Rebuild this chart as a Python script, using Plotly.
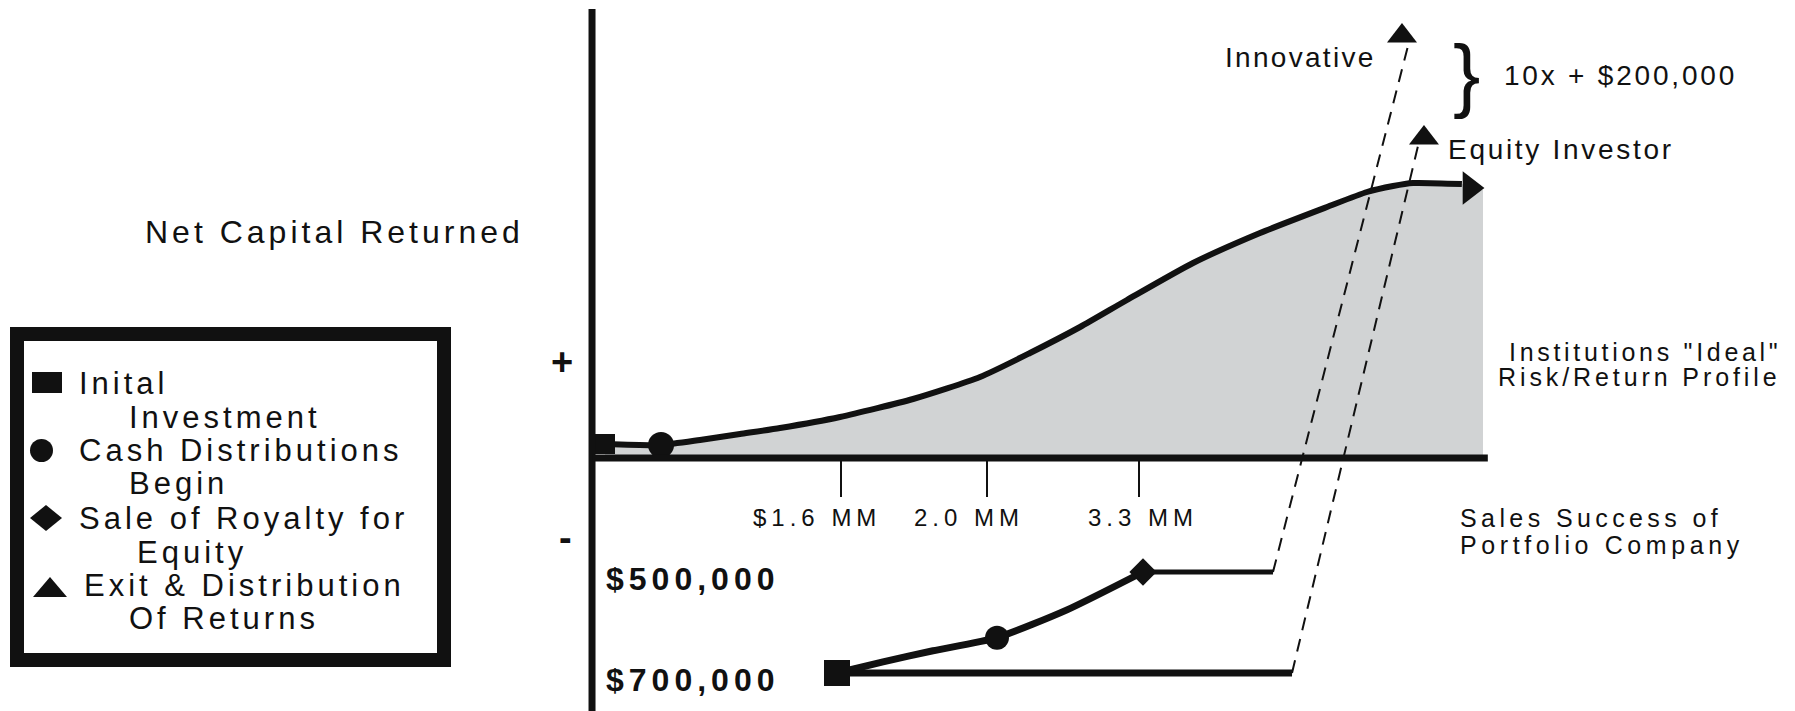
import plotly.graph_objects as go

W, H = 1795, 711
FONT = "Liberation Sans, Arial, Helvetica, sans-serif"
INK = "#111111"
SHADE = "#d1d3d4"

# ---- axis frame -------------------------------------------------------------
# x: progress along the sales axis (0 = origin, 100 = end of the axis)
# y: net capital returned (schematic units, positive side)
# y2: capital outstanding in dollars (negative side)
X_RANGE = [-66.22, 134.56]
Y_RANGE = [-63.25, 114.5]
Y2_RANGE = [-775247, 632673]
AXIS_END = 100.2

# ---- net capital returned curve (upper) -------------------------------------
curve_x = [1.45, 7.72, 12.08, 16.55, 21.03, 27.74, 35.91, 43.40, 48.99, 54.59,
           59.84, 67.23, 74.72, 82.21, 86.69, 89.60, 91.83, 97.3]
curve_y = [3.5, 3.25, 4.5, 6.0, 7.5, 10.25, 14.75, 20.25, 26.25, 32.75,
           39.5, 48.75, 56.25, 62.75, 66.5, 68.0, 68.75, 68.5]
shade_end_x, shade_end_y = 99.66, 67.0
arrow_x, arrow_y = [98.2], [67.5]

# ---- capital outstanding (lower), dollars -----------------------------------
low_x = [27.4, 32.55, 38.14, 45.3, 53.13, 61.63]
low_y = [-700000, -678000, -656000, -630000, -575000, -500000]
royalty_level_x = [61.63, 76.17]
investment_level_x = [27.4, 78.3]
levels = [-500000, -700000]
level_labels = ["$500,000", "$700,000"]

# ---- events ------------------------------------------------------------------
invest_up = ([1.45], [3.5])
invest_low = ([27.4], [-700000])
cash_up = ([7.72], [3.25])
cash_low = ([45.3], [-630000])
royalty_low = ([61.63], [-500000])
exit_x = [90.6, 93.06]
exit_y = [105.5, 80.0]
exit_labels = ["Innovative", "Equity Investor"]

# ---- sales axis ticks -------------------------------------------------------
tick_x = [27.85, 44.18, 61.19]
tick_labels = ["$1.6 MM", "2.0 MM", "3.3 MM"]
tick_label_x = [25.17, 42.17, 61.63]


def y2_to_y(v):
    """Map a dollar value on y2 onto the y scale (both span the full height)."""
    f = (v - Y2_RANGE[0]) / (Y2_RANGE[1] - Y2_RANGE[0])
    return Y_RANGE[0] + f * (Y_RANGE[1] - Y_RANGE[0])


def spaced(text, ls):
    return f'<span style="letter-spacing:{ls}px">{text}</span>'


fig = go.Figure()

# shaded area under the return curve
fig.add_trace(go.Scatter(
    x=curve_x + [shade_end_x], y=curve_y + [shade_end_y],
    mode="lines", line=dict(width=0, color=SHADE, shape="spline", smoothing=0.6),
    fill="tozeroy", fillcolor=SHADE, hoverinfo="skip"))

# exit paths (dashed) from each capital level up to its exit
fig.add_trace(go.Scatter(
    x=[royalty_level_x[1], exit_x[0] + 0.67], y=[y2_to_y(levels[0]), exit_y[0] - 2.5],
    mode="lines", line=dict(color=INK, width=2, dash="13px,9px")))
fig.add_trace(go.Scatter(
    x=[investment_level_x[1], exit_x[1] - 0.67], y=[y2_to_y(levels[1]), exit_y[1] - 2.0],
    mode="lines", line=dict(color=INK, width=2, dash="13px,9px")))

# return curve + arrow head
fig.add_trace(go.Scatter(
    x=curve_x, y=curve_y, mode="lines",
    line=dict(color=INK, width=6, shape="spline", smoothing=0.6)))
fig.add_trace(go.Scatter(
    x=arrow_x, y=arrow_y, mode="markers",
    marker=dict(symbol="triangle-right", size=29, color=INK)))

# capital outstanding curve and level lines
fig.add_trace(go.Scatter(
    x=low_x, y=low_y, yaxis="y2", mode="lines",
    line=dict(color=INK, width=7, shape="spline", smoothing=0.6)))
fig.add_trace(go.Scatter(
    x=royalty_level_x, y=[levels[0]] * 2, yaxis="y2", mode="lines",
    line=dict(color=INK, width=5)))
fig.add_trace(go.Scatter(
    x=investment_level_x, y=[levels[1]] * 2, yaxis="y2", mode="lines",
    line=dict(color=INK, width=7)))

# event markers
fig.add_trace(go.Scatter(x=invest_up[0], y=invest_up[1], mode="markers",
                         marker=dict(symbol="square", size=20, color=INK)))
fig.add_trace(go.Scatter(x=invest_low[0], y=invest_low[1], yaxis="y2", mode="markers",
                         marker=dict(symbol="square", size=26, color=INK)))
fig.add_trace(go.Scatter(x=cash_up[0], y=cash_up[1], mode="markers",
                         marker=dict(symbol="circle", size=26, color=INK)))
fig.add_trace(go.Scatter(x=cash_low[0], y=cash_low[1], yaxis="y2", mode="markers",
                         marker=dict(symbol="circle", size=24, color=INK)))
fig.add_trace(go.Scatter(x=royalty_low[0], y=royalty_low[1], yaxis="y2", mode="markers",
                         marker=dict(symbol="diamond", size=21, color=INK)))
fig.add_trace(go.Scatter(x=exit_x, y=exit_y, mode="markers",
                         marker=dict(symbol="triangle-up", size=26, color=INK)))

shapes = [
    # axes
    dict(type="line", xref="x", yref="paper", x0=0, x1=0, y0=0, y1=1 - 9 / H,
         line=dict(color=INK, width=7)),
    dict(type="line", xref="x", yref="y", x0=0, x1=AXIS_END, y0=0, y1=0,
         line=dict(color=INK, width=7)),
]


def px(x):
    return x / W


def py(y):
    return 1 - y / H


# legend frame
shapes.append(dict(type="rect", xref="paper", yref="paper",
                   x0=px(17), x1=px(444), y0=py(660), y1=py(334),
                   line=dict(color=INK, width=14), fillcolor="white", layer="below"))
# legend symbols
shapes.append(dict(type="rect", xref="paper", yref="paper",
                   x0=px(32), x1=px(62), y0=py(393), y1=py(372),
                   line=dict(width=0), fillcolor=INK))
shapes.append(dict(type="circle", xref="paper", yref="paper",
                   x0=px(30), x1=px(53), y0=py(462), y1=py(439),
                   line=dict(width=0), fillcolor=INK))
shapes.append(dict(type="path", xref="paper", yref="paper",
                   path=(f"M{px(30)},{py(518)} L{px(46)},{py(505)} "
                         f"L{px(62)},{py(518)} L{px(46)},{py(531)} Z"),
                   line=dict(width=0), fillcolor=INK))
shapes.append(dict(type="path", xref="paper", yref="paper",
                   path=f"M{px(33)},{py(597)} L{px(50)},{py(577)} L{px(67)},{py(597)} Z",
                   line=dict(width=0), fillcolor=INK))

annotations = []


def label(text, x, y, size, ls, xanchor="left", bold=False, xref="paper", yref="paper",
          yshift=0):
    t = spaced(text, ls)
    if bold:
        t = f"<b>{t}</b>"
    annotations.append(dict(
        text=t, x=x, y=y, xref=xref, yref=yref, xanchor=xanchor, yanchor="middle",
        showarrow=False, yshift=yshift,
        font=dict(family=FONT, size=size, color=INK)))


# legend entries
legend_lines = [
    ("Inital", 77, 383), ("Investment", 127, 417),
    ("Cash Distributions", 77, 450), ("Begin", 127, 483),
    ("Sale of Royalty for", 77, 518), ("Equity", 135, 552),
    ("Exit &amp; Distribution", 82, 585), ("Of Returns", 127, 618),
]
for txt, lx, ly in legend_lines:
    label(txt, px(lx), py(ly), 31, 4)

# axis captions
label("Net Capital Returned", px(334), py(232), 32, 4.0, xanchor="center")
label("+", px(562), py(362), 38, 0, xanchor="center", bold=True)
label("-", px(565), py(538), 38, 0, xanchor="center", bold=True)
label("Sales Success of", px(1458), py(518), 25, 4.4)
label("Portfolio Company", px(1458), py(545), 25, 4.6)
label("Institutions \"Ideal\"", px(1783), py(352), 25, 3.7, xanchor="right")
label("Risk/Return Profile", px(1783), py(377), 25, 3.9, xanchor="right")

# exit labels
label(exit_labels[0], px(1378), py(57), 28, 2.3, xanchor="right")
label(exit_labels[1], px(1446), py(150), 28, 2.7)
label("10x + $200,000", px(1502), py(76), 28, 2.8)
annotations.append(dict(text="}", x=px(1466), y=py(74), xref="paper", yref="paper",
                        xanchor="center", yanchor="middle", showarrow=False,
                        font=dict(family=FONT, size=82, color=INK)))

# tick labels on the sales axis
for tx, tl in zip(tick_label_x, tick_labels):
    label(tl, tx, py(517), 24, 5.0, xanchor="center", xref="x")

# dollar level labels
for lv, lt in zip(levels, level_labels):
    label(lt, px(604), lv, 32, 5.0, bold=True, yref="y2", yshift=-7)

fig.update_layout(
    width=W, height=H,
    margin=dict(l=0, r=0, t=0, b=0),
    paper_bgcolor="white", plot_bgcolor="white",
    showlegend=False,
    xaxis=dict(range=X_RANGE, anchor="free", position=1 - 458 / H,
               showgrid=False, zeroline=False, showline=False,
               ticks="outside", ticklen=38, tickwidth=2, tickcolor=INK,
               tickvals=tick_x, showticklabels=False, fixedrange=True),
    yaxis=dict(range=Y_RANGE, visible=False, fixedrange=True),
    yaxis2=dict(range=Y2_RANGE, overlaying="y", visible=False, fixedrange=True),
    shapes=shapes,
    annotations=annotations,
)

fig.write_html("out.html")
